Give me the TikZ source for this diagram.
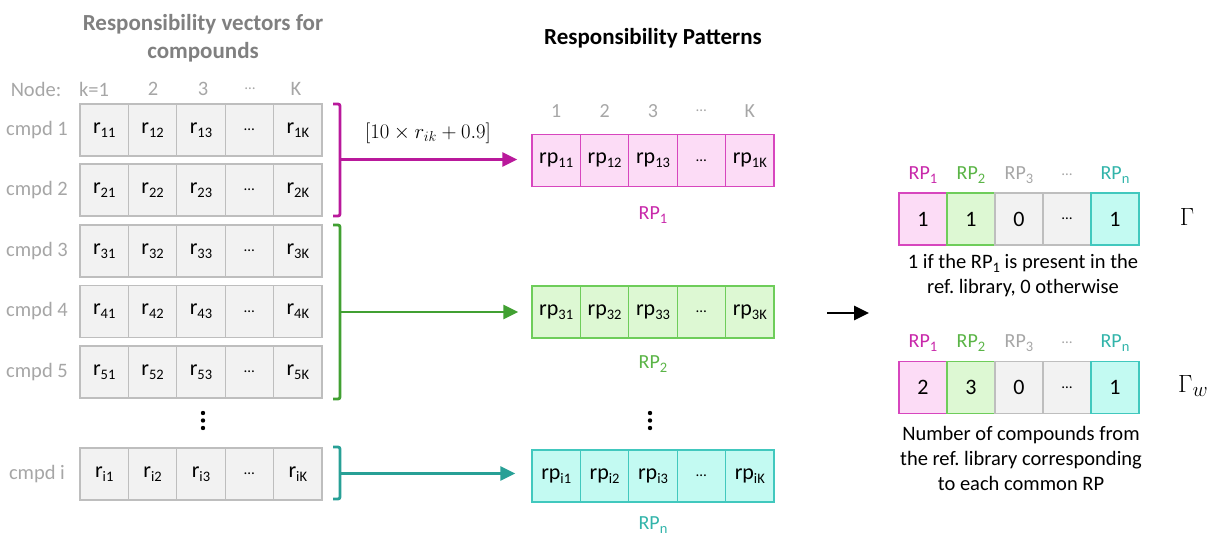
\documentclass[tikz,border=0pt]{standalone}
\usepackage{fontspec}
\setmainfont{Carlito}
\usetikzlibrary{arrows.meta}
\frenchspacing
\definecolor{gfill}{RGB}{242,242,242}
\definecolor{gline}{RGB}{190,190,190}
\definecolor{ltxt}{RGB}{166,166,166}
\definecolor{ttxt}{RGB}{128,128,128}
\definecolor{magl}{RGB}{185,25,155}
\definecolor{magb}{RGB}{215,70,190}
\definecolor{magf}{RGB}{252,220,246}
\definecolor{magt}{RGB}{200,40,170}
\definecolor{grnl}{RGB}{65,160,50}
\definecolor{grnb}{RGB}{110,205,90}
\definecolor{grnf}{RGB}{221,248,211}
\definecolor{grnt}{RGB}{90,180,70}
\definecolor{teall}{RGB}{40,160,150}
\definecolor{tealb}{RGB}{65,200,190}
\definecolor{tealf}{RGB}{195,250,242}
\definecolor{tealt}{RGB}{50,180,170}
\newcommand\mysub[1]{\raisebox{-0.4ex}{\fontsize{14.5}{14.5}\selectfont #1}}
\newcommand\celldots{{\fontsize{15}{15}\selectfont\textellipsis}}
\tikzset{
  cellbase/.style={minimum width=48.4pt,minimum height=52pt,inner sep=0pt,line width=1.2pt,font=\fontsize{22}{24}\selectfont,text=black},
  gcell/.style={cellbase,draw=gline,fill=gfill},
  mcell/.style={cellbase,draw=magb,fill=magf},
  ncell/.style={cellbase,draw=grnb,fill=grnf},
  tcell/.style={cellbase,draw=tealb,fill=tealf},
  qcell/.style={cellbase,minimum width=48pt},
  lbl/.style={font=\fontsize{20.5}{24}\selectfont,text=ltxt,inner sep=0pt},
  hdr/.style={font=\fontsize{20}{24}\selectfont,inner sep=0pt},
  title/.style={font=\bfseries\fontsize{23}{28}\selectfont,align=center,inner sep=0pt},
  note/.style={font=\fontsize{20.5}{25}\selectfont,align=center,inner sep=0pt},
  brk/.style={line width=2.8pt,rounded corners=2pt},
  conn/.style={line width=2.8pt,-{Triangle[length=15pt,width=14pt]}},
}
\begin{document}
\begin{tikzpicture}[x=1pt,y=-1pt]
\useasboundingbox (0,0) rectangle (1207,535);

% titles
\node[title,text=ttxt] (t1) at (203,38) {Responsibility vectors for\\compounds};
\node[title,text=black] (t2) at (653,38) {Responsibility Patterns};

% left header
\node[lbl] (hnode) at (36,89) {Node:};
\node[lbl] (hk1) at (94,89) {k=1};
\node[lbl] (hk2) at (153,89) {2};
\node[lbl] (hk3) at (203,89) {3};
\node[lbl] (hk4) at (250,89) {\celldots};
\node[lbl] (hk5) at (296,89) {K};

% left rows
\foreach \row/\yc/\s/\lab in {1/130/1/1, 2/190/2/2, 3/251/3/3, 4/311.5/4/4, 5/372/5/5, 6/474/i/i} {
  \node[lbl] (c\row) at (37,\yc) {cmpd \lab};
  \node[gcell] (r\row-1) at (104.2,\yc) {r\mysub{\s1}};
  \node[gcell] (r\row-2) at (152.6,\yc) {r\mysub{\s2}};
  \node[gcell] (r\row-3) at (201,\yc) {r\mysub{\s3}};
  \node[gcell] (r\row-4) at (249.4,\yc) {\celldots};
  \node[gcell] (r\row-5) at (297.8,\yc) {r\mysub{\s K}};
}
% vertical dots (left)
\foreach \yy in {413,420.5,428} \fill (203,\yy) circle (2.2pt);

% RP header
\node[hdr,text=ltxt] (p1) at (556.2,111) {1};
\node[hdr,text=ltxt] (p2) at (604.6,111) {2};
\node[hdr,text=ltxt] (p3) at (653,111) {3};
\node[hdr,text=ltxt] (p4) at (701.4,111) {\celldots};
\node[hdr,text=ltxt] (p5) at (749.8,111) {K};

% RP rows
\foreach \nm/\yc/\s/\st in {rpa/160.5/1/mcell, rpb/312/3/ncell, rpc/476/i/tcell} {
  \node[\st] (\nm-1) at (556.2,\yc) {rp\mysub{\s1}};
  \node[\st] (\nm-2) at (604.6,\yc) {rp\mysub{\s2}};
  \node[\st] (\nm-3) at (653,\yc) {rp\mysub{\s3}};
  \node[\st] (\nm-4) at (701.4,\yc) {\celldots};
  \node[\st] (\nm-5) at (749.8,\yc) {rp\mysub{\s K}};
}
\node[hdr,text=magt] (lrp1) at (653,215) {RP\mysub{1}};
\node[hdr,text=grnt] (lrp2) at (653,364) {RP\mysub{2}};
\node[hdr,text=tealt] (lrpn) at (653,525) {RP\mysub{n}};
\foreach \yy in {413,420.5,428} \fill (650,\yy) circle (2.2pt);

% brackets and connectors
\draw[brk,magl] (333,104) -- (340,104) -- (340,216) -- (333,216);
\coordinate (b1) at (340,159.5);
\draw[conn,magl,shorten >=14pt] (b1) -- (b1 -| rpa-1.west);
\node[font=\fontsize{21.5}{24}\selectfont,inner sep=0pt] (form) at (428,133) {$[10\times r_{ik}+0.9]$};

\draw[brk,grnl] (333,225) -- (340,225) -- (340,399) -- (333,399);
\coordinate (b2) at (340,312);
\draw[conn,grnl,shorten >=13pt] (b2) -- (b2 -| rpb-1.west);

\draw[brk,teall] (333,447) -- (340,447) -- (340,499) -- (333,499);
\coordinate (b3) at (340,473.5);
\draw[conn,teall,shorten >=16pt] (b3) -- (b3 -| rpc-1.west);

% black arrow
\coordinate (ka) at (827,313);
\coordinate (kb) at (869,313);
\draw[conn,black] (ka) -- (kb);

% Gamma tables
\foreach \nm/\yc/\hy/\va/\vb in {ga/219/175/1/1, gb/387.5/343/2/3} {
  \node[hdr,text=magt] (\nm h1) at (923,\hy) {RP\mysub{1}};
  \node[hdr,text=grnt] (\nm h2) at (971,\hy) {RP\mysub{2}};
  \node[hdr,text=ltxt] (\nm h3) at (1019,\hy) {RP\mysub{3}};
  \node[hdr,text=ltxt] (\nm h4) at (1067,\hy) {\celldots};
  \node[hdr,text=tealt] (\nm h5) at (1115,\hy) {RP\mysub{n}};
  \node[mcell,qcell] (\nm-1) at (923,\yc) {\va};
  \node[ncell,qcell] (\nm-2) at (971,\yc) {\vb};
  \node[gcell,qcell] (\nm-3) at (1019,\yc) {0};
  \node[gcell,qcell] (\nm-4) at (1067,\yc) {\celldots};
  \node[tcell,qcell] (\nm-5) at (1115,\yc) {1};
}
\node[font=\fontsize{29}{30}\selectfont,inner sep=0pt] (gam) at (1187,217) {$\Gamma$};
\node[font=\fontsize{29}{30}\selectfont,inner sep=0pt,anchor=west] (gamw) at (1178,386) {$\Gamma_{w}$};

\node[note] (n1) at (1023,275.5) {1 if the RP\mysub{1} is present in the\\ref. library, 0 otherwise};
\node[note] (n2) at (1021,458) {Number of compounds from\\the ref. library corresponding\\to each common RP};
\end{tikzpicture}
\end{document}
